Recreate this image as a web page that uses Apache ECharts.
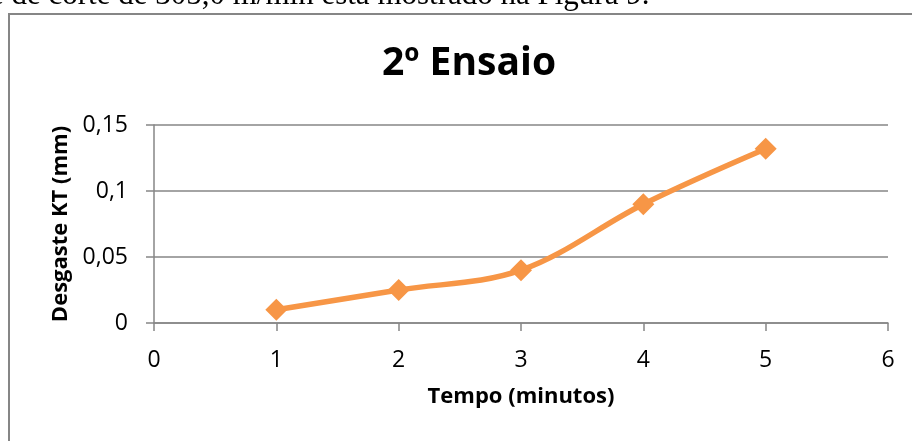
<!DOCTYPE html>
<html>
<head>
<meta charset="utf-8">
<script src="https://cdn.jsdelivr.net/npm/echarts@6/dist/echarts.min.js"></script>
<style>
  html, body { margin: 0; padding: 0; background: #fff; }
  #chart { width: 912px; height: 441px; }
</style>
</head>
<body>
<div id="chart"></div>
<script>
// Tempo (minutos) e desgaste KT (mm) medidos no 2º ensaio
const tempos = [1, 2, 3, 4, 5];
const desgaste = [0.01, 0.025, 0.04, 0.09, 0.132];

const tituloGrafico = '2º Ensaio';
const tituloX = 'Tempo (minutos)';
const tituloY = 'Desgaste KT (mm)';
const textoCorpo = 'e de corte de 305,0 m/min está mostrado na Figura 9.';

const cinza = '#868686';
const laranja = '#F79646';
const fonte = '"Open Sans", Calibri, sans-serif';

const chart = echarts.init(document.getElementById('chart'), null, { renderer: 'canvas' });

chart.setOption({
  backgroundColor: '#ffffff',
  animation: false,
  title: {
    text: tituloGrafico,
    left: 377,
    top: 39,
    textStyle: { fontFamily: fonte, fontWeight: 'bold', fontSize: 39, color: '#000' }
  },
  graphic: [
    {
      type: 'text',
      left: -10,
      top: -20,
      style: { text: textoCorpo, font: '31px "Liberation Serif", "Times New Roman", serif', fill: '#000' }
    },
    {
      type: 'rect',
      shape: { x: 9, y: 14, width: 1000, height: 1000 },
      style: { fill: 'none', stroke: cinza, lineWidth: 2 }
    }
  ],
  grid: { left: 154, right: 24, top: 125, bottom: 118 },
  xAxis: {
    type: 'value',
    min: 0,
    max: 6,
    interval: 1,
    name: tituloX,
    nameLocation: 'middle',
    nameGap: 63,
    nameTextStyle: { fontFamily: fonte, fontWeight: 'bold', fontSize: 22, color: '#000' },
    axisLine: { show: true, lineStyle: { color: cinza, width: 1.5 } },
    axisTick: { show: true, length: 8, lineStyle: { color: cinza, width: 1.5 } },
    axisLabel: { margin: 26, fontFamily: fonte, fontSize: 23, color: '#000' },
    splitLine: { show: false }
  },
  yAxis: {
    type: 'value',
    min: 0,
    max: 0.15,
    interval: 0.05,
    name: tituloY,
    nameLocation: 'middle',
    nameGap: 82,
    nameRotate: 90,
    nameTextStyle: { fontFamily: fonte, fontWeight: 'bold', fontSize: 22, color: '#000' },
    axisLine: { show: true, lineStyle: { color: cinza, width: 1.5 } },
    axisTick: { show: true, length: 8, lineStyle: { color: cinza, width: 1.5 } },
    axisLabel: {
      margin: 26,
      fontFamily: fonte,
      fontSize: 23,
      color: '#000',
      formatter: v => String(Math.round(v * 100) / 100).replace('.', ',')
    },
    splitLine: { show: true, lineStyle: { color: cinza, width: 1.5 } }
  },
  series: [
    {
      type: 'line',
      data: tempos.map((t, i) => [t, desgaste[i]]),
      smooth: 0.35,
      symbol: 'diamond',
      symbolSize: 22,
      lineStyle: { color: laranja, width: 5.5 },
      itemStyle: { color: laranja }
    }
  ]
});
</script>
</body>
</html>
